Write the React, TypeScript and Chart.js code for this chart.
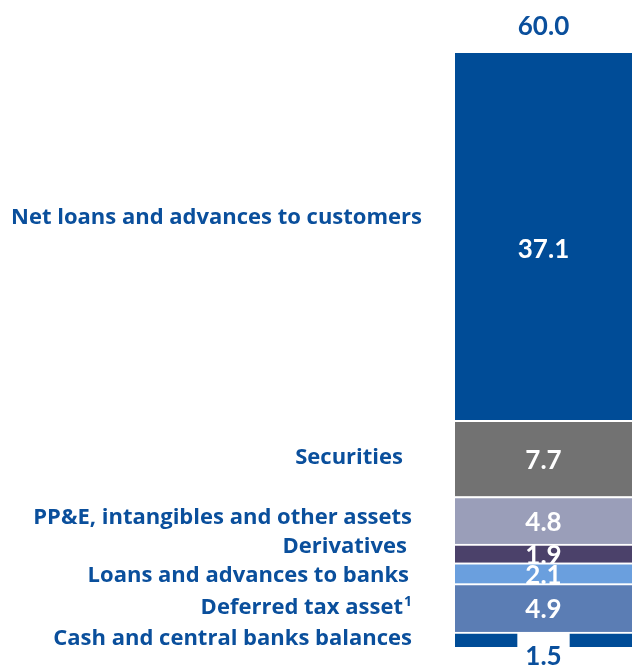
import React, { useEffect, useRef } from "react";
import { Chart, registerables } from "chart.js";

Chart.register(...registerables);

const categories = [
  "Cash and central banks balances",
  "Deferred tax asset",
  "Loans and advances to banks",
  "Derivatives",
  "PP&E, intangibles and other assets",
  "Securities",
  "Net loans and advances to customers",
];
const superscripts = ["", "1", "", "", "", "", ""];
const values = [1.5, 4.9, 2.1, 1.9, 4.8, 7.7, 37.1];
const colors = ["#004C97", "#5B7DB4", "#6A9FDE", "#4B416A", "#9A9EB9", "#727272", "#004C97"];

const TEXT_BLUE = "#0A4F9C";
const LABEL_FONT = "'Open Sans'";
const VALUE_FONT = "Lato";
// label placement tweaks (relative to bar left / segment centre)
const labelRightOffset = [-43, -43, -46, -48, -43, -52, -33];
const labelDy = [-3.5, -2, 0.5, -9, -5, -2.5, -20];
const valueDy = [0, 0, 0, 0, 0, 0, 12];

const labelPlugin = {
  id: "labels",
  afterDatasetsDraw(chart: any) {
    const ctx = chart.ctx as CanvasRenderingContext2D;
    const area = chart.chartArea;
    ctx.save();
    let topY = area.bottom;
    chart.data.datasets.forEach((ds: any, i: number) => {
      const meta = chart.getDatasetMeta(i);
      const bar: any = meta.data[0];
      if (!bar) return;
      const border = i === values.length - 1 ? 0 : 2;
      const top = bar.y + border;
      const base = bar.base;
      const cy = (top + base) / 2;
      topY = Math.min(topY, bar.y);
      // category label
      const lf = `bold 22px ${LABEL_FONT}`;
      ctx.font = lf;
      ctx.fillStyle = TEXT_BLUE;
      ctx.textAlign = "right";
      ctx.textBaseline = "alphabetic";
      const capH = ctx.measureText("H").actualBoundingBoxAscent;
      const right = area.left + labelRightOffset[i];
      const by = cy + labelDy[i] + capH / 2;
      const sup = superscripts[i];
      let supW = 0;
      if (sup) {
        ctx.font = `bold 14px ${LABEL_FONT}`;
        supW = ctx.measureText(sup).width + 1;
        ctx.fillText(sup, right, by - capH * 0.55);
        ctx.font = lf;
      }
      ctx.fillText(categories[i], right - supW, by);

      // value label
      ctx.font = `bold 26px ${VALUE_FONT}`;
      ctx.textAlign = "center";
      const dH = ctx.measureText("0").actualBoundingBoxAscent;
      const txt = values[i].toFixed(1);
      if (i === 0) {
        const w = ctx.measureText(txt).width + 16;
        ctx.fillStyle = "#ffffff";
        ctx.fillRect(bar.x - w / 2, bar.y, w, chart.height - bar.y);
        ctx.fillStyle = TEXT_BLUE;
        ctx.fillText(txt, bar.x, base + 8 + dH / 2);
      } else {
        ctx.fillStyle = "#ffffff";
        ctx.fillText(txt, bar.x, cy + valueDy[i] + dH / 2);
      }
    });
    // total
    const total = values.reduce((a, b) => a + b, 0);
    const meta0: any = chart.getDatasetMeta(0).data[0];
    ctx.font = `bold 26px ${VALUE_FONT}`;
    ctx.textAlign = "center";
    ctx.fillStyle = TEXT_BLUE;
    const dH = ctx.measureText("0").actualBoundingBoxAscent;
    ctx.fillText(total.toFixed(1), meta0.x, topY - 28 + dH / 2);
    ctx.restore();
  },
};

export default function App() {
  const ref = useRef<HTMLCanvasElement | null>(null);
  useEffect(() => {
    if (!ref.current) return;
    const chart = new Chart(ref.current, {
      type: "bar",
      data: {
        labels: ["Assets"],
        datasets: values.map((v, i) => ({
          label: categories[i],
          data: [v],
          backgroundColor: colors[i],
          borderColor: "#ffffff",
          borderWidth: i === values.length - 1 ? 0 : { top: 2, left: 0, right: 0, bottom: 0 },
          borderSkipped: false,
          barPercentage: 1,
          categoryPercentage: 1,
        })),
      },
      options: {
        animation: false,
        responsive: false,
        layout: { padding: { left: 455, right: 0, top: 53, bottom: 19 } },
        plugins: { legend: { display: false }, tooltip: { enabled: false } },
        scales: {
          x: { stacked: true, display: false },
          y: { stacked: true, display: false, min: 0, max: 60 },
        },
      },
      plugins: [labelPlugin],
    });
    return () => chart.destroy();
  }, []);
  return (
    <div style={{ position: "absolute", left: 0, top: 0, width: 632, height: 666, background: "#fff" }}>
      <canvas ref={ref} width={632} height={666} style={{ display: "block" }} />
    </div>
  );
}
